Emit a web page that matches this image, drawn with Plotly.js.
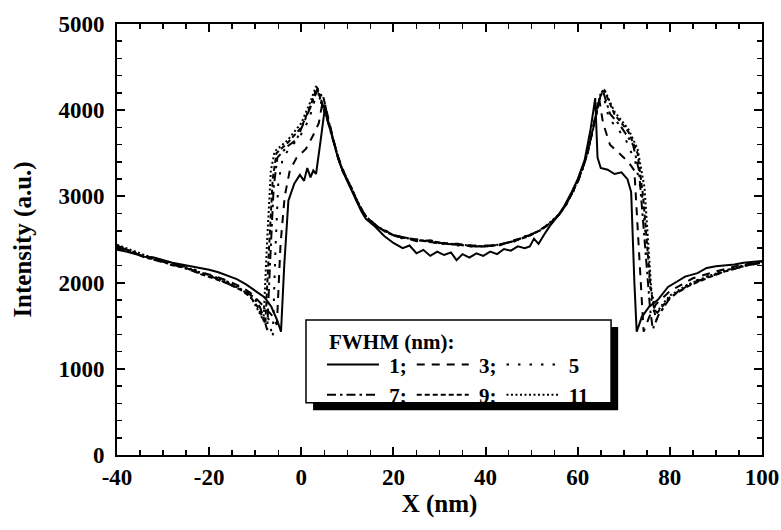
<!DOCTYPE html>
<html><head><meta charset="utf-8">
<script src="https://cdn.plot.ly/plotly-3.0.1.min.js"></script>
<style>body{margin:0;background:#fff}</style>
</head><body>
<div id="chart" style="width:781px;height:530px"></div>
<script>
// Shared x grid of the central (valley) section
const midX = [6,7,8,9,10,11,12,13,14,15.5,17,18.5,20,22,25,28,31,34,37,40,43,46,49,52,54,56,57.6,59,60.2,61.2,62.2,63.2,64];

// FWHM = 1 nm (solid)
const fwhm1X = [-40,-38,-36,-34,-32,-30,-28,-26,-24,-22,-20,-18,-16,-14,-12,-10,-8,-6.5,-5.2,-4.4,-3.7,-2.8,-1.5,-0.3,0.6,1.3,2.0,2.6,3.2,4.2,5.2,6,7,8,9,10,11,12,13,14,16,18,20,22,23.5,25,26.5,28,29.5,31,32.5,33.7,35,36.5,38,39.5,41,42.5,44,45.5,47,48.5,49.6,50.5,51.5,53,54,55.5,57,58.5,60,61.5,62.8,63.8,64.3,65,66.5,68,69.5,70.8,71.6,72.3,72.8,73.9,75.5,77.4,79.6,81.5,83.3,86,88,90,92,94,96,98,100];
const fwhm1Y = [2380,2360,2330,2300,2290,2260,2230,2210,2190,2170,2150,2120,2080,2040,1980,1910,1830,1720,1560,1430,2200,2950,3150,3250,3180,3330,3220,3300,3260,3650,4060,3830,3620,3440,3290,3170,3060,2940,2830,2740,2650,2540,2460,2400,2430,2340,2380,2310,2360,2320,2350,2260,2330,2290,2340,2310,2360,2330,2390,2370,2420,2400,2420,2510,2450,2580,2660,2760,2880,3030,3200,3420,3780,4140,3450,3330,3310,3260,3280,3200,3050,2000,1430,1600,1720,1800,1950,2010,2070,2110,2170,2190,2200,2210,2230,2240,2250];

// FWHM = 3 nm (dash)
const fwhm3LeftX = [-40,-37,-34,-31,-28,-25,-22,-19,-16,-13,-11,-9.5,-8,-6.5,-5.3,-4.5,-3.6,-2.5,-1,1,2.5,3.8,4.8];
const fwhm3LeftY = [2400,2350,2310,2260,2220,2170,2120,2080,2020,1950,1880,1800,1720,1630,1510,2450,3000,3300,3450,3550,3700,3850,4150];
const fwhm3MidY = [3870,3650,3460,3310,3180,3090,2950,2860,2760,2700,2620,2600,2540,2530,2480,2490,2450,2450,2420,2430,2430,2490,2530,2620,2680,2800,2910,3070,3190,3350,3510,3760,3980];
const fwhm3RightX = [64.6,65.5,67,69,71,72.3,73.3,74.3,75.5,77,80,85,90,95,100];
const fwhm3RightY = [4150,3850,3600,3500,3400,3300,2400,1430,1600,1750,1900,2050,2130,2200,2240];

// FWHM = 5 nm (sparse dots)
const fwhm5LeftX = [-40,-37,-34,-31,-28,-25,-22,-19,-16,-13,-11,-9.5,-8,-7,-6.2,-5.6,-5,-4,-2.5,-1,0.5,2,3,3.9,5];
const fwhm5LeftY = [2420,2350,2300,2270,2220,2180,2130,2070,2010,1940,1870,1790,1700,1560,1360,2400,3150,3450,3560,3650,3760,3950,4130,4260,4020];
const fwhm5MidY = [3830,3630,3440,3290,3200,3070,2970,2840,2780,2680,2640,2580,2560,2510,2500,2470,2460,2430,2430,2410,2450,2470,2550,2600,2700,2780,2930,3050,3210,3340,3530,3740,3940];
const fwhm5RightX = [64.6,65.3,66,66.8,68.5,70.5,72.5,74,75,76,77,78,80,83,86,90,94,97,100];
const fwhm5RightY = [4080,4220,4080,3900,3800,3650,3400,3000,2400,1800,1560,1660,1820,1950,2030,2110,2170,2210,2240];

// FWHM = 7 nm (dash-dot)
const fwhm7LeftX = [-40,-37,-34,-31,-28,-25,-22,-19,-16,-13,-10.5,-9,-8.2,-7.4,-6.8,-6,-5.2,-3,-1,1,2.5,3.6,5];
const fwhm7LeftY = [2430,2360,2300,2250,2210,2160,2110,2060,1990,1920,1840,1720,1600,1450,2200,3100,3450,3580,3660,3900,4100,4250,4000];
const fwhm7MidY = [3840,3640,3440,3300,3190,3090,2960,2850,2770,2690,2630,2590,2550,2520,2500,2470,2450,2440,2430,2420,2440,2480,2540,2610,2690,2790,2920,3060,3200,3340,3520,3750,3960];
const fwhm7RightX = [64.8,65.5,67,69.5,72,73.3,74.5,75.7,76.3,77.5,80,84,88,92,96,100];
const fwhm7RightY = [4150,4220,3960,3800,3600,3300,2500,1700,1460,1620,1820,1970,2060,2130,2190,2230];

// FWHM = 9 nm (short dash)
const fwhm9LeftX = [-40,-37,-34,-31,-28,-25,-22,-19,-16,-13,-11,-9.5,-8.5,-7.8,-7,-6.2,-5.4,-3,0,2,3.4,4.6];
const fwhm9LeftY = [2410,2370,2290,2260,2200,2170,2100,2050,1990,1910,1830,1720,1610,1520,2400,3200,3500,3620,3800,4050,4270,4050];
const fwhm9MidY = [3850,3650,3450,3290,3190,3080,2960,2860,2770,2690,2630,2580,2550,2530,2490,2480,2460,2440,2420,2420,2440,2480,2530,2610,2690,2790,2920,3060,3200,3350,3520,3750,3960];
const fwhm9RightX = [65,65.8,68,71,73,74.2,75,75.8,76.8,78,80,84,88,92,96,100];
const fwhm9RightY = [4180,4230,3950,3750,3500,3000,2500,1950,1620,1700,1830,1960,2050,2130,2190,2240];

// FWHM = 11 nm (dense dots)
const fwhm11LeftX = [-40,-37,-34,-31,-28,-25,-22,-19,-16,-13,-11,-9.8,-9,-8.2,-7.4,-6.6,-5.8,-3,0,2,3.2,4.5];
const fwhm11LeftY = [2440,2380,2320,2270,2230,2180,2120,2070,2000,1920,1840,1720,1640,1560,2500,3300,3520,3650,3850,4100,4280,4050];
const fwhm11MidY = [3860,3640,3460,3300,3200,3080,2970,2850,2770,2700,2630,2590,2550,2520,2500,2470,2450,2440,2430,2420,2440,2480,2540,2610,2700,2790,2920,3060,3210,3340,3520,3760,3970];
const fwhm11RightX = [65,65.8,68,71,73,74.5,75.3,76,77,78,80,84,88,92,96,100];
const fwhm11RightY = [4200,4240,3980,3780,3550,3100,2400,1900,1640,1720,1850,1980,2070,2140,2200,2240];

const seriesNames = ['1;', '3;', '5', '7;', '9;', '11'];
const legendTitle = 'FWHM (nm):';
const xTitle = 'X (nm)';
const yTitle = 'Intensity (a.u.)';
const xTickVals = [-40, -20, 0, 20, 40, 60, 80, 100];
const xTickLabels = ['-40', '-20', '0', '20', '40', '60', '80', '100'];
const yTickVals = [0, 1000, 2000, 3000, 4000, 5000];
const yTickLabels = ['0', '1000', '2000', '3000', '4000', '5000'];

const FONT = 'Liberation Serif, Times New Roman, serif';

const curves = [
  {x: fwhm1X, y: fwhm1Y, dash: 'solid', group: 'a'},
  {x: [...fwhm3LeftX, ...midX, ...fwhm3RightX], y: [...fwhm3LeftY, ...fwhm3MidY, ...fwhm3RightY], dash: '8px,7px', group: 'b'},
  {x: [...fwhm5LeftX, ...midX, ...fwhm5RightX], y: [...fwhm5LeftY, ...fwhm5MidY, ...fwhm5RightY], dash: '2.5px,9px', group: 'c'},
  {x: [...fwhm7LeftX, ...midX, ...fwhm7RightX], y: [...fwhm7LeftY, ...fwhm7MidY, ...fwhm7RightY], dash: '9px,4px,2.5px,4px', group: 'a'},
  {x: [...fwhm9LeftX, ...midX, ...fwhm9RightX], y: [...fwhm9LeftY, ...fwhm9MidY, ...fwhm9RightY], dash: '5px,3px', group: 'b'},
  {x: [...fwhm11LeftX, ...midX, ...fwhm11RightX], y: [...fwhm11LeftY, ...fwhm11MidY, ...fwhm11RightY], dash: '2px,2.5px', group: 'c'}
];

const traces = curves.map((c, i) => ({
  type: 'scatter', mode: 'lines', x: c.x, y: c.y,
  name: '\u00a0' + seriesNames[i],
  legendgroup: c.group,
  line: {color: 'black', width: 2, dash: c.dash}
}));

const tickFont = {family: FONT, size: 23, color: 'black', weight: 'bold'};
const titleFont = {family: FONT, size: 25, color: 'black', weight: 'bold'};
const legFont = {family: FONT, size: 21, color: 'black', weight: 'bold'};

const layout = {
  width: 781, height: 530,
  margin: {l: 117, r: 19, t: 24, b: 75},
  paper_bgcolor: 'white', plot_bgcolor: 'white',
  showlegend: true,
  legend: {
    x: 0.3178, y: 0.257, xanchor: 'left', yanchor: 'top',
    orientation: 'h', traceorder: 'grouped', tracegroupgap: 0,
    bgcolor: 'rgba(0,0,0,0)', borderwidth: 0,
    itemwidth: 52,
    font: legFont
  },
  // legend frame with drop shadow
  shapes: [
    {type: 'rect', xref: 'paper', yref: 'paper', layer: 'above',
     x0: 0.304, x1: 0.777, y0: 0.104, y1: 0.297, fillcolor: 'black', line: {width: 0}},
    {type: 'rect', xref: 'paper', yref: 'paper', layer: 'above',
     x0: 0.293, x1: 0.766, y0: 0.121, y1: 0.313, fillcolor: 'white', line: {color: 'black', width: 1.5}}
  ],
  annotations: [
    {text: legendTitle, xref: 'paper', yref: 'paper', x: 0.3256, y: 0.262,
     xanchor: 'left', yanchor: 'middle', showarrow: false, font: legFont}
  ],
  xaxis: {
    range: [-40, 100], tickmode: 'array', tickvals: xTickVals, ticktext: xTickLabels,
    ticks: 'inside', ticklen: 8, tickwidth: 2, tickcolor: 'black',
    showline: true, linewidth: 2, linecolor: 'black', mirror: 'ticks',
    showgrid: false, zeroline: false,
    minor: {dtick: 5, tick0: -40, ticks: 'inside', ticklen: 5, tickwidth: 1.5, tickcolor: 'black'},
    tickfont: tickFont,
    title: {text: xTitle, font: titleFont, standoff: 0}
  },
  yaxis: {
    range: [0, 5000], tickmode: 'array', tickvals: yTickVals, ticktext: yTickLabels,
    ticks: 'inside', ticklen: 8, tickwidth: 2, tickcolor: 'black',
    showline: true, linewidth: 2, linecolor: 'black', mirror: 'ticks',
    showgrid: false, zeroline: false,
    minor: {dtick: 200, tick0: 0, ticks: 'inside', ticklen: 5, tickwidth: 1.5, tickcolor: 'black'},
    tickfont: tickFont, ticklabelstandoff: 6,
    title: {text: yTitle, font: titleFont, standoff: 20}
  }
};

Plotly.newPlot('chart', traces, layout, {displayModeBar: false, staticPlot: true});
</script></body></html>
